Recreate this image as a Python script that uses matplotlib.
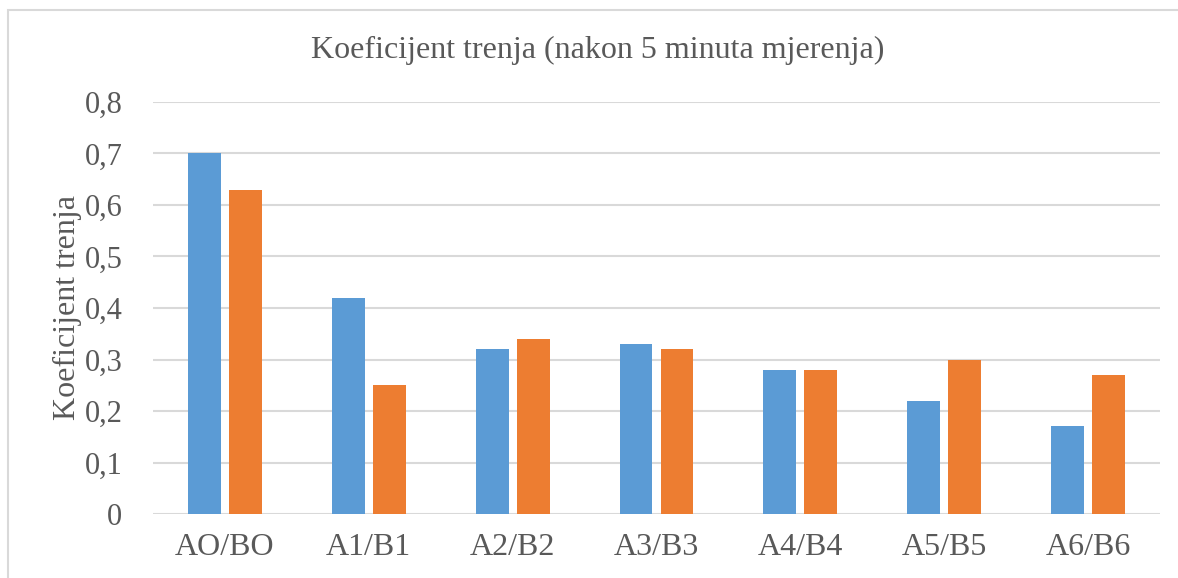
import numpy as np
import matplotlib
matplotlib.use("Agg")
from matplotlib import pyplot as plt
from matplotlib.patches import Rectangle

categories = ["AO/BO", "A1/B1", "A2/B2", "A3/B3", "A4/B4", "A5/B5", "A6/B6"]
series_a = [0.70, 0.42, 0.32, 0.33, 0.28, 0.22, 0.17]
series_b = [0.63, 0.25, 0.34, 0.32, 0.28, 0.30, 0.27]
yticks = [0, 0.1, 0.2, 0.3, 0.4, 0.5, 0.6, 0.7, 0.8]
ytick_labels = ["0", "0,1", "0,2", "0,3", "0,4", "0,5", "0,6", "0,7", "0,8"]

plt.rcParams['font.family'] = ['Liberation Serif', 'DejaVu Serif']
txt = "#595959"
W, H = 1178, 578

fig = plt.figure(figsize=(W / 100, H / 100), dpi=100)
ax = fig.add_axes([153 / W, 1 - 514 / H, (1160 - 153) / W, (514 - 102) / H])

x = np.arange(len(categories))
bw = 0.229
off = 0.1425
ax.bar(x - off, series_a, width=bw, color="#5B9BD5", zorder=3)
ax.bar(x + off, series_b, width=bw, color="#ED7D31", zorder=3)

ax.set_xlim(-0.5, len(categories) - 0.5)
ax.set_ylim(0, 0.8)
ax.set_yticks(yticks)
ax.set_yticklabels(ytick_labels)
ax.set_xticks(x)
ax.set_xticklabels(categories)
ax.tick_params(axis="both", length=0, labelsize=22, colors=txt)
ax.tick_params(axis="x", labelsize=23, pad=14)
ax.tick_params(axis="y", pad=22)
ax.yaxis.grid(True, color="#D9D9D9", linewidth=1.5, zorder=0)
for s in ax.spines.values():
    s.set_visible(False)

ax.set_ylabel("Koeficijent trenja", fontsize=23, color=txt, labelpad=2)
fig.text(598 / W, 1 - 50 / H, "Koeficijent trenja (nakon 5 minuta mjerenja)",
         ha="center", va="center", fontsize=23, color=txt)

# chart border (only left/top visible in the crop)
fig.patches.append(Rectangle((8 / W, -0.1), 1.2, 1 - 10 / H + 0.1,
                             transform=fig.transFigure, fill=False,
                             edgecolor="#D9D9D9", linewidth=1.5))

plt.savefig("out.png", dpi=100)
plt.close()
